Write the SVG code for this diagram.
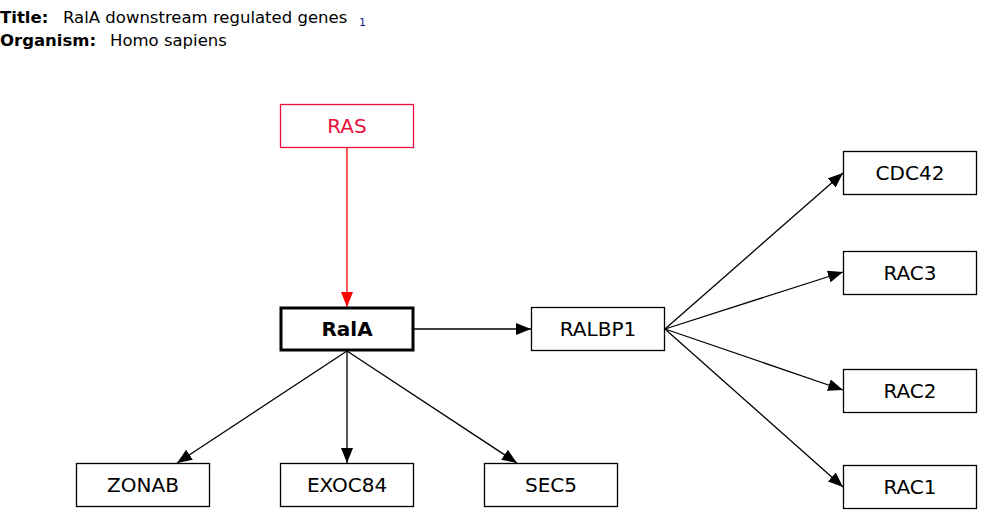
<svg xmlns="http://www.w3.org/2000/svg" width="1000" height="532" viewBox="0 0 1000 532">
<style>
text{font-family:"DejaVu Sans",sans-serif}
.hdr{font-size:16.5px;fill:#000}
.b{font-weight:bold}
.node rect{fill:#fff;stroke:#000;stroke-width:1.3}
.node text{font-size:20px;text-anchor:middle;dominant-baseline:central;fill:#000}
.edge{stroke:#000;stroke-width:1.3;fill:none;marker-end:url(#ah)}
</style>
<defs>
<marker id="ah" viewBox="0 0 15 12" refX="15" refY="6" markerWidth="15" markerHeight="12" markerUnits="userSpaceOnUse" orient="auto">
<path d="M0,0 L15,6 L0,12 z" fill="#000"/>
</marker>
<marker id="ahr" viewBox="0 0 15 12" refX="15" refY="6" markerWidth="15" markerHeight="12" markerUnits="userSpaceOnUse" orient="auto">
<path d="M0,0 L15,6 L0,12 z" fill="#f00"/>
</marker>
</defs>
<rect width="1000" height="532" fill="#fff"/>
<g id="header">
<text class="hdr" x="0" y="23"><tspan class="b">Title:</tspan><tspan x="63">RalA downstream regulated genes</tspan></text>
<text x="359" y="26" font-size="11" fill="#1a1a8c">1</text>
<text class="hdr" x="0" y="46"><tspan class="b">Organism:</tspan><tspan x="110">Homo sapiens</tspan></text>
</g>
<g id="connectors">
<line x1="347" y1="148" x2="347" y2="307" stroke="#f00" stroke-width="1.3" marker-end="url(#ahr)"/>
<line class="edge" x1="414" y1="329" x2="531" y2="329"/>
<line class="edge" x1="665" y1="329" x2="843" y2="173"/>
<line class="edge" x1="665" y1="329" x2="843" y2="272"/>
<line class="edge" x1="665" y1="329" x2="843" y2="390"/>
<line class="edge" x1="665" y1="329" x2="843" y2="487"/>
<line class="edge" x1="347" y1="351" x2="177" y2="463"/>
<line class="edge" x1="347" y1="351" x2="347" y2="463"/>
<line class="edge" x1="347" y1="351" x2="517" y2="463"/>
</g>
<g id="RAS" class="node"><rect x="280.5" y="104.5" width="133" height="43" style="stroke:#e8103c"/><text x="347" y="126" style="fill:#e8103c">RAS</text></g>
<g id="RalA" class="node"><rect x="281" y="308" width="132" height="42" style="stroke-width:3"/><text x="347" y="329" style="font-weight:bold">RalA</text></g>
<g id="RALBP1" class="node"><rect x="531.5" y="307.5" width="133" height="43"/><text x="598" y="329">RALBP1</text></g>
<g id="CDC42" class="node"><rect x="843.5" y="151.5" width="133" height="43"/><text x="910" y="173">CDC42</text></g>
<g id="RAC3" class="node"><rect x="843.5" y="251.5" width="133" height="43"/><text x="910" y="273">RAC3</text></g>
<g id="RAC2" class="node"><rect x="843.5" y="369.5" width="133" height="43"/><text x="910" y="391">RAC2</text></g>
<g id="RAC1" class="node"><rect x="843.5" y="465.5" width="133" height="43"/><text x="910" y="487">RAC1</text></g>
<g id="ZONAB" class="node"><rect x="76.5" y="463.5" width="133" height="43"/><text x="143" y="485">ZONAB</text></g>
<g id="EXOC84" class="node"><rect x="280.5" y="463.5" width="133" height="43"/><text x="347" y="485">EXOC84</text></g>
<g id="SEC5" class="node"><rect x="484.5" y="463.5" width="133" height="43"/><text x="551" y="485">SEC5</text></g>
</svg>
